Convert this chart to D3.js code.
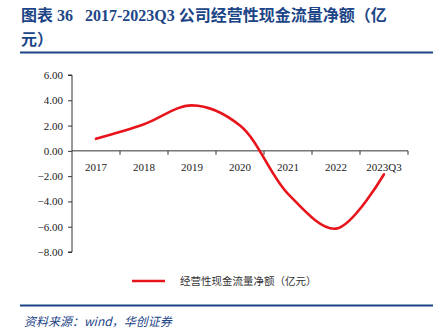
<!DOCTYPE html>
<html>
<head>
<meta charset="utf-8">
<script src="https://cdn.jsdelivr.net/npm/d3@7/dist/d3.min.js"></script>
<style>
  html, body { margin: 0; padding: 0; background: #fff; }
  svg { display: block; }
</style>
</head>
<body>
<svg id="chart" width="444" height="328"></svg>
<script>
// Operating cash flow, net (100M CNY)
const categories = ["2017", "2018", "2019", "2020", "2021", "2022", "2023Q3"];
const cashFlow = [0.95, 2.1, 3.6, 2.0, -3.4, -6.15, -1.85];
const yTicks = [6, 4, 2, 0, -2, -4, -6, -8];
const seriesName = "经营性现金流量净额（亿元）";
const titleLine1 = "图表 36   2017-2023Q3 公司经营性现金流量净额（亿";
const titleLine2 = "元）";
const sourceText = "资料来源：wind，华创证券";

const svg = d3.select("#chart");
const navy = "#1c4587";
const cjk = "'Noto Sans CJK SC', 'Noto Sans', sans-serif";
const serif = "'Liberation Serif', 'Times New Roman', serif";
const serifCjk = "'Liberation Serif', 'Noto Sans CJK SC', serif";

// Title
const title = svg.append("text")
  .style("font-family", serifCjk).style("white-space", "pre")
  .attr("font-weight", "bold").attr("font-size", 16).attr("fill", navy);
title.append("tspan").attr("x", 21).attr("y", 21).text(titleLine1);
title.append("tspan").attr("x", 21).attr("y", 45).text(titleLine2);

svg.append("rect").attr("x", 20).attr("y", 51.5).attr("width", 413).attr("height", 2).attr("fill", navy);

// Plot area
const x0 = 72, x1 = 408, yTop = 75, yBot = 252;
const x = d3.scaleBand().domain(categories).range([x0, x1]);
const y = d3.scaleLinear().domain([-8, 6]).range([yBot, yTop]);

// Y axis
const yAxis = d3.axisLeft(y).tickValues(yTicks).tickSize(4).tickPadding(5)
  .tickFormat(d3.format(".2f"));
const gy = svg.append("g").attr("transform", `translate(${x0},0)`).call(yAxis);
gy.attr("font-family", null);
gy.select(".domain").attr("stroke", "#333").attr("d", `M-4,${yTop}H0V${yBot}H-4`);
gy.selectAll(".tick line").attr("stroke", "#333");
gy.selectAll(".tick text").style("font-family", serif).style("font-size", "11px").attr("fill", "#222");

// X axis along the zero line, ticks between categories
const gx = svg.append("g").attr("transform", `translate(0,${y(0)})`);
gx.append("line").attr("x1", x0).attr("x2", x1).attr("stroke", "#333");
const bounds = categories.map(c => x(c)).concat([x1]);
gx.selectAll("line.tk").data(bounds.slice(1)).join("line").attr("class", "tk")
  .attr("x1", d => d).attr("x2", d => d).attr("y1", 0).attr("y2", 4).attr("stroke", "#333");
gx.selectAll("text").data(categories).join("text")
  .attr("x", d => x(d) + x.bandwidth() / 2).attr("y", 20)
  .attr("text-anchor", "middle").style("font-family", serif).style("font-size", "11px")
  .attr("fill", "#222").text(d => d);

// Smoothed line
const line = d3.line()
  .x((d, i) => x(categories[i]) + x.bandwidth() / 2)
  .y(d => y(d))
  .curve(d3.curveCatmullRom.alpha(0.5));
svg.append("path").datum(cashFlow).attr("d", line)
  .attr("fill", "none").attr("stroke", "#e8141c").attr("stroke-width", 2.6)
  .attr("stroke-linecap", "round");

// Legend
svg.append("line").attr("x1", 132).attr("x2", 165).attr("y1", 281).attr("y2", 281)
  .attr("stroke", "#e8141c").attr("stroke-width", 2.6);
svg.append("text").attr("x", 180).attr("y", 285).style("font-family", cjk)
  .attr("font-size", 10.5).attr("fill", "#333").text(seriesName);

// Footer rule and source
svg.append("rect").attr("x", 20).attr("y", 304.5).attr("width", 413).attr("height", 2).attr("fill", navy);
svg.append("text").attr("x", 24).attr("y", 326).style("font-family", cjk)
  .attr("font-style", "italic").attr("font-size", 12).attr("fill", navy).text(sourceText);
</script>
</body>
</html>
